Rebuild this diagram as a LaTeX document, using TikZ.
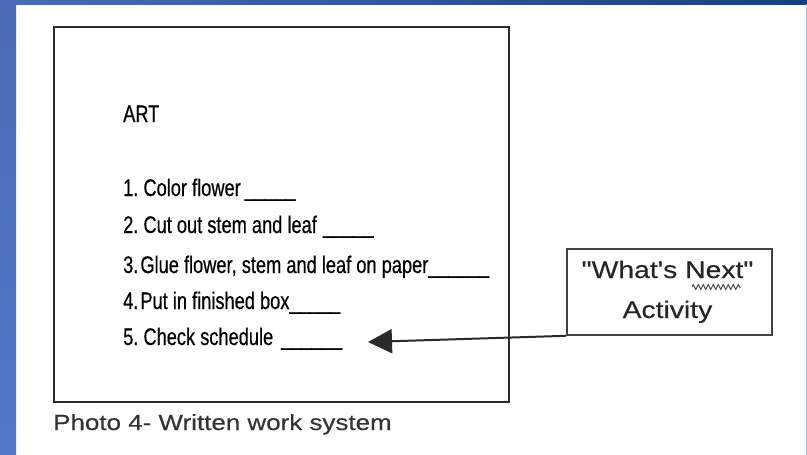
\documentclass[tikz,border=0pt]{standalone}
\usepackage{fontspec}
\usetikzlibrary{arrows.meta,decorations.pathmorphing}
\newfontfamily\narrowfont[FakeStretch=0.76,FakeBold=0.5]{Liberation Sans}
\newfontfamily\widefont[FakeStretch=1.18,FakeBold=0.3]{Liberation Sans}
\definecolor{barL}{HTML}{4A6CB8}
\definecolor{barLb}{HTML}{5178C8}
\definecolor{barT}{HTML}{17407F}
\definecolor{edgeR}{HTML}{A8BCE4}
\definecolor{frame}{HTML}{2A2A2A}
\tikzset{
  item/.style={anchor=base west, inner sep=0pt, font=\narrowfont\fontsize{24}{24}\selectfont, text=black},
  boxtext/.style={anchor=base, inner sep=0pt, font=\widefont\fontsize{24}{24}\selectfont, text=black!85},
  frm/.style={draw=frame, line width=2pt},
}
\frenchspacing
\begin{document}
\begin{tikzpicture}[x=1pt,y=-1pt]
\useasboundingbox (0,0) rectangle (807,455);
\fill[white] (0,0) rectangle (807,455);
% blue borders
\shade[top color=barL, bottom color=barLb] (0,0) rectangle (16,455);
\shade[left color=barL, right color=barT] (0,0) rectangle (807,4);
\fill[edgeR] (805.5,4) rectangle (807,455);
% main panel
\node[frm, minimum width=455, minimum height=375, inner sep=0pt] (panel) at (281.5,214.5) {};
\node[item] (art) at (123,122) {ART};
\node[item] (s1) at (123,196) {1. Color flower\hspace{4pt}\_\_\_\_\_};
\node[item] (s2) at (123,233) {2. Cut out stem and leaf\hspace{6pt}\_\_\_\_\_};
\node[item] (s3) at (123,273) {3.\hspace{2pt}Glue flower, stem and leaf on paper\_\_\_\_\_\_};
\node[item] (s4) at (123,309) {4.\hspace{2pt}Put in finished box\_\_\_\_\_};
\node[item] (s5) at (123,345) {5. Check schedule\hspace{8pt}\_\_\_\_\_\_};
% caption
\node[anchor=base west, inner sep=0pt, font=\widefont\fontsize{22}{22}\selectfont, text=black!80] (cap) at (53,430) {Photo 4- Written work system};
% what's next box
\node[frm, line width=1.6pt, draw=black!75, minimum width=205, minimum height=86, inner sep=0pt] (next) at (669.5,292) {};
\node[boxtext] (t1) at (667.5,278) {"What's Next"};
\node[boxtext] (t2) at (667.5,318) {Activity};
\draw[black!70, line width=1pt, decorate, decoration={zigzag, segment length=5, amplitude=2.4}] (692,287) -- (741,287);
% arrow
\coordinate (tip) at (368,342);
\draw[line width=2pt, draw=frame, -{Triangle[length=24pt,width=24pt]}] (next.south west) -- (tip);
\end{tikzpicture}
\end{document}
